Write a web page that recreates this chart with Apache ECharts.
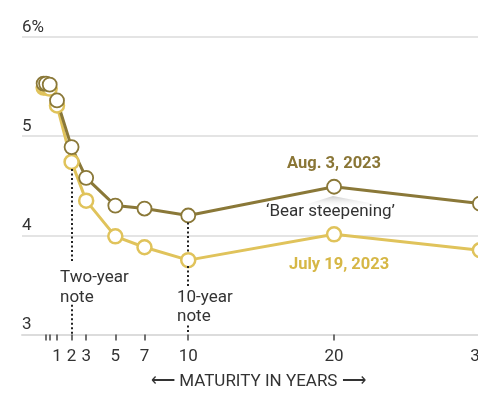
<!DOCTYPE html>
<html>
<head>
<meta charset="utf-8">
<script src="https://cdn.jsdelivr.net/npm/echarts@6/dist/echarts.min.js"></script>
<style>
  html, body { margin: 0; padding: 0; background: #fff; overflow: hidden; }
  #chart { width: 500px; height: 395px; }
</style>
</head>
<body>
<div id="chart"></div>
<script>
// Treasury yield curves, percent, by maturity in years
const maturities = [1 / 12, 0.25, 0.5, 1, 2, 3, 5, 7, 10, 20, 30];
const aug3 = [5.53, 5.53, 5.52, 5.36, 4.89, 4.58, 4.30, 4.27, 4.20, 4.49, 4.32];
const jul19 = [5.49, 5.49, 5.48, 5.31, 4.74, 4.35, 3.99, 3.88, 3.75, 4.01, 3.85];

// axis ticks
const xTickValues = [0.25, 0.5, 1, 2, 3, 5, 7, 10, 20, 30];
const xTickLabels = [1, 2, 3, 5, 7, 10, 20, 30];
const yTickValues = [3, 4, 5, 6];

// dotted guide segments: [maturity, from yield, to yield]
const guides = [
  [2, 4.67, 3.73],
  [2, 3.30, 3.0],
  [10, 4.13, 3.83],
  [10, 3.69, 3.49],
  [10, 3.09, 3.0]
];

const FONT = '"Roboto", "Liberation Sans", sans-serif';
const DARK = '#8a7838';
const DARK_TEXT = '#8a7636';
const GOLD = '#e0c35b';
const GOLD_TEXT = '#d6b746';
const INK = '#333333';

const pair = (xs, ys) => xs.map((x, i) => [x, ys[i]]);

const chart = echarts.init(document.getElementById('chart'), null, { renderer: 'canvas' });

chart.setOption({
  animation: false,
  textStyle: { fontFamily: FONT },
  grid: { left: 22, right: 0, top: 37, bottom: 60.5, containLabel: false },
  xAxis: {
    type: 'value',
    min: -1.4,
    max: 31.38,
    axisLine: { show: true, lineStyle: { color: '#dcdcdc', width: 2 } },
    axisTick: {
      show: true,
      customValues: xTickValues,
      length: 6,
      lineStyle: { color: '#444', width: 1.5 }
    },
    axisLabel: {
      customValues: xTickLabels,
      margin: 14,
      fontSize: 17,
      color: INK,
      fontFamily: FONT
    },
    splitLine: { show: false }
  },
  yAxis: {
    type: 'value',
    min: yTickValues[0],
    max: yTickValues[yTickValues.length - 1],
    interval: 1,
    axisLine: { show: false },
    axisTick: { show: false },
    splitLine: { lineStyle: { color: '#e4e4e4', width: 2 } },
    axisLabel: {
      inside: true,
      margin: 0,
      align: 'left',
      verticalAlign: 'bottom',
      padding: [0, 0, 1, 0],
      fontSize: 17,
      color: INK,
      fontFamily: FONT,
      formatter: v => (v === 6 ? v + '%' : String(v))
    }
  },
  series: [
    {
      name: 'July 19, 2023',
      type: 'line',
      data: pair(maturities, jul19),
      clip: false,
      symbol: 'circle',
      symbolSize: 14,
      showAllSymbol: true,
      lineStyle: { color: GOLD, width: 3 },
      itemStyle: { color: '#fff', borderColor: GOLD, borderWidth: 2.5 },
      markLine: {
        silent: true,
        symbol: 'none',
        label: { show: false },
        lineStyle: { color: '#222', width: 2, type: [2, 2.5], cap: 'butt' },
        data: guides.map(g => [{ coord: [g[0], g[1]] }, { coord: [g[0], g[2]] }])
      }
    },
    {
      name: 'Aug. 3, 2023',
      type: 'line',
      data: pair(maturities, aug3),
      clip: false,
      symbol: 'circle',
      symbolSize: 14,
      showAllSymbol: true,
      lineStyle: { color: DARK, width: 3 },
      itemStyle: { color: '#fff', borderColor: DARK, borderWidth: 1.8 }
    }
  ],
  graphic: [
    {
      type: 'polygon',
      silent: true,
      z: 1,
      shape: { points: [[298, 207], [333, 196], [390, 207]] },
      style: {
        fill: new echarts.graphic.LinearGradient(0, 0, 0, 1, [
          { offset: 0, color: 'rgba(200,200,200,0.9)' },
          { offset: 1, color: 'rgba(255,255,255,0.2)' }
        ])
      }
    },
    {
      type: 'text', left: 287, top: 155, silent: true,
      style: { text: 'Aug. 3, 2023', fill: DARK_TEXT, font: 'bold 16.5px ' + FONT }
    },
    {
      type: 'text', left: 266, top: 203, silent: true,
      style: { text: '\u2018Bear steepening\u2019', fill: INK, font: '17px ' + FONT }
    },
    {
      type: 'text', left: 289, top: 256, silent: true,
      style: { text: 'July 19, 2023', fill: GOLD_TEXT, font: 'bold 16.5px ' + FONT }
    },
    {
      type: 'text', left: 60, top: 268, silent: true,
      style: { text: 'Two-year\nnote', fill: INK, font: '17px ' + FONT, lineHeight: 20 }
    },
    {
      type: 'text', left: 177, top: 288, silent: true,
      style: { text: '10-year\nnote', fill: INK, font: '17px ' + FONT, lineHeight: 19 }
    },
    {
      type: 'text', left: 151, top: 373, silent: true,
      style: { text: '\u27F5 MATURITY IN YEARS \u27F6', fill: INK, font: '17px ' + FONT }
    }
  ]
});
</script>
</body>
</html>
